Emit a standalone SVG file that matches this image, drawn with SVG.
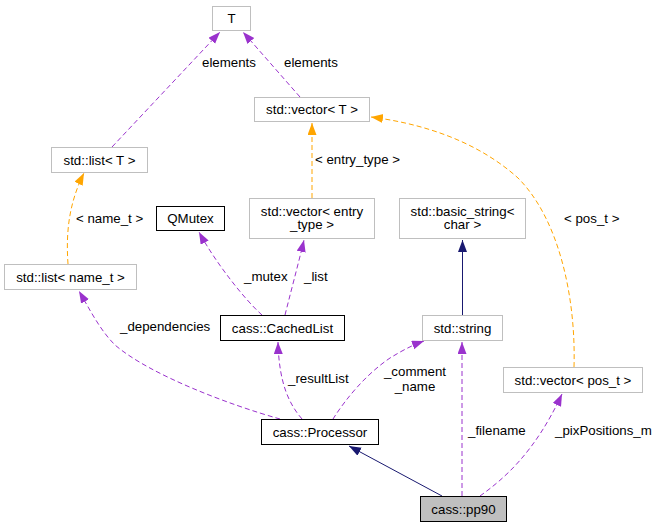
<svg xmlns="http://www.w3.org/2000/svg" width="657" height="528" viewBox="0 0 657 528">
<style>
text{font-family:"Liberation Sans",Arial,sans-serif;font-size:13.3px;fill:#000}
.n text{text-anchor:middle}
.g{fill:#fff;stroke:#bfbfbf;stroke-width:1}
.b{fill:#fff;stroke:#000;stroke-width:1}
.e{fill:none;stroke-width:1}
.p{stroke:#9a32cd;stroke-dasharray:5,3;marker-end:url(#mp)}
.o{stroke:#ffa500;stroke-dasharray:5,3;marker-end:url(#mo)}
.v{stroke:#191970;marker-end:url(#mv)}
</style>
<defs>
<marker id="mp" markerUnits="userSpaceOnUse" markerWidth="12" markerHeight="10" refX="12" refY="4.5" orient="auto"><path d="M0,0L12,4.5L0,9z" fill="#9a32cd"/></marker>
<marker id="mo" markerUnits="userSpaceOnUse" markerWidth="12" markerHeight="10" refX="12" refY="4.5" orient="auto"><path d="M0,0L12,4.5L0,9z" fill="#ffa500"/></marker>
<marker id="mv" markerUnits="userSpaceOnUse" markerWidth="12" markerHeight="10" refX="12" refY="4.5" orient="auto"><path d="M0,0L12,4.5L0,9z" fill="#191970"/></marker>
</defs>
<rect width="657" height="528" fill="#fff"/>
<g id="edges">
<path class="e p" d="M112,147L220,32"/>
<text x="202" y="67">elements</text>
<path class="e p" d="M300,97L243,32"/>
<text x="284" y="67">elements</text>
<path class="e o" d="M312,198L312,123"/>
<text x="315" y="164">&lt; entry_type &gt;</text>
<path class="e o" d="M574,367C576,300 560,220 518,178C478,142 425,124 371,117"/>
<text x="564" y="223">&lt; pos_t &gt;</text>
<path class="e o" d="M68,264C66,235 68,205 84,173"/>
<text x="76" y="223">&lt; name_t &gt;</text>
<path class="e p" d="M262,315C245,300 215,262 199,232"/>
<text x="244" y="281">_mutex</text>
<path class="e p" d="M285,315C290,295 298,265 304,240"/>
<text x="304" y="281">_list</text>
<path class="e p" d="M280,419C230,405 150,375 115,345C100,330 90,310 79,291"/>
<text x="120" y="331">_dependencies</text>
<path class="e p" d="M302,419C290,405 279,385 278,342"/>
<text x="288" y="383">_resultList</text>
<path class="e p" d="M333,419C345,400 365,375 390,358C400,352 410,346 424,341"/>
<text x="415" y="376" text-anchor="middle">_comment</text>
<text x="415" y="391" text-anchor="middle">_name</text>
<path class="e p" d="M462,496L462,342"/>
<text x="468" y="435">_filename</text>
<path class="e p" d="M480,496C505,478 535,452 562,394"/>
<text x="555" y="435">_pixPositions_m</text>
<path class="e v" d="M442,496L349,446"/>
<path class="e v" d="M462.5,315L462.5,240"/>
</g>
<g id="T" class="n"><rect class="g" x="212.5" y="6.5" width="38" height="24"/><text x="231.5" y="23">T</text></g>
<g id="vectorT" class="n"><rect class="g" x="254.5" y="97.5" width="115" height="24"/><text x="312" y="114">std::vector&lt; T &gt;</text></g>
<g id="listT" class="n"><rect class="g" x="51.5" y="147.5" width="96" height="25"/><text x="99.5" y="164.5">std::list&lt; T &gt;</text></g>
<g id="listName" class="n"><rect class="g" x="4.5" y="264.5" width="132" height="25"/><text x="70.5" y="281.5">std::list&lt; name_t &gt;</text></g>
<g id="QMutex" class="n"><rect class="b" x="156.5" y="206.5" width="68" height="24"/><text x="190.5" y="223">QMutex</text></g>
<g id="vectorEntry" class="n"><rect class="g" x="249.5" y="198.5" width="125" height="40"/><text x="312" y="215.5">std::vector&lt; entry</text><text x="312" y="229">_type &gt;</text></g>
<g id="basicString" class="n"><rect class="g" x="399.5" y="198.5" width="126" height="40"/><text x="462.5" y="215.5">std::basic_string&lt;</text><text x="462.5" y="229">char &gt;</text></g>
<g id="CachedList" class="n"><rect class="b" x="220.5" y="315.5" width="124" height="25"/><text x="282.5" y="332.5">cass::CachedList</text></g>
<g id="string" class="n"><rect class="g" x="422.5" y="315.5" width="80" height="25"/><text x="462.5" y="332.5">std::string</text></g>
<g id="vectorPos" class="n"><rect class="g" x="503.5" y="367.5" width="139" height="25"/><text x="573" y="384.5">std::vector&lt; pos_t &gt;</text></g>
<g id="Processor" class="n"><rect class="b" x="261.5" y="419.5" width="117" height="25"/><text x="320" y="436.5">cass::Processor</text></g>
<g id="pp90" class="n"><rect x="420.5" y="496.5" width="86" height="25" fill="#bfbfbf" stroke="#000"/><text x="463.5" y="513.5">cass::pp90</text></g>
</svg>
